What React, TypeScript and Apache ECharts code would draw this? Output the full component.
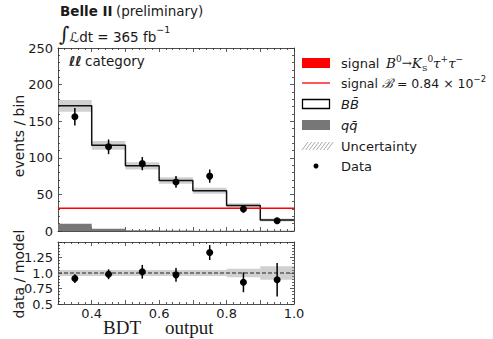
import React, { useEffect, useRef } from "react";
import * as echarts from "echarts";

const binEdges = [0.3, 0.4, 0.5, 0.6, 0.7, 0.8, 0.9, 1.0];
const modelTotal = [171, 117, 89, 69, 55, 35, 15];
const modelUnc = [8, 6, 5, 4.5, 4, 3, 2];
const qqbar = [10, 3, 1, 0.6, 0.4, 0.3, 0.2];
const dataCounts = [156, 115, 92, 67, 75, 30, 14];
const dataErr = [12, 10, 9, 8, 9, 5, 4];
const signalLevel = 31;
const ratio = [0.91, 0.98, 1.02, 0.97, 1.33, 0.85, 0.89];
const ratioErr = [0.07, 0.08, 0.11, 0.11, 0.12, 0.16, 0.27];
const ratioUnc = [0.05, 0.05, 0.05, 0.05, 0.05, 0.07, 0.11];
const ratioTickLabels: Record<string, string> = { "0.5": "0.5", "0.75": "0.75", "1": "1.0", "1.25": "1.25" };
const xTickLabels: Record<string, string> = { "0.4": "0.4", "0.6": "0.6", "0.8": "0.8", "1": "1.0" };

const FONT = "DejaVu Sans";
const TXT = "#1a1a1a";
const BAND = "rgba(150,150,150,0.45)";

const nBins = modelTotal.length;
const centers = modelTotal.map((_, i) => (binEdges[i] + binEdges[i + 1]) / 2);

const bandData = modelTotal.map((v, i) => [binEdges[i], binEdges[i + 1], v - modelUnc[i], v + modelUnc[i]]);
const qqData = qqbar.map((v, i) => [binEdges[i], binEdges[i + 1], 0, v]);
const stepData = binEdges.map((e, i) => [e, modelTotal[Math.min(i, nBins - 1)]]);
const dataPts = dataCounts.map((v, i) => [centers[i], v, v - dataErr[i], v + dataErr[i]]);
const ratioBand = ratioUnc.map((u, i) => [binEdges[i], binEdges[i + 1], 1 - u, 1 + u]);
const ratioPts = ratio.map((v, i) => [centers[i], v, v - ratioErr[i], v + ratioErr[i]]);

const rectRenderer = (fill: string) => (params: any, api: any) => {
  const a = api.coord([api.value(0), api.value(3)]);
  const b = api.coord([api.value(1), api.value(2)]);
  return {
    type: "rect",
    shape: { x: a[0], y: a[1], width: b[0] - a[0], height: b[1] - a[1] },
    style: { fill },
  };
};

const errRenderer = (params: any, api: any) => {
  const c = api.coord([api.value(0), api.value(1)]);
  const lo = api.coord([api.value(0), api.value(2)]);
  const hi = api.coord([api.value(0), api.value(3)]);
  return {
    type: "group",
    children: [
      { type: "line", shape: { x1: lo[0], y1: lo[1], x2: hi[0], y2: hi[1] }, style: { stroke: "#000", lineWidth: 1.5 } },
      { type: "circle", shape: { cx: c[0], cy: c[1], r: 3.5 }, style: { fill: "#000" } },
    ],
  };
};

const tickStyle = { lineStyle: { color: "#333", width: 0.8 } };

function mkX(grid: number, pos: "top" | "bottom", labels: boolean) {
  return {
    type: "value",
    gridIndex: grid,
    position: pos,
    min: 0.3,
    max: 1.0,
    interval: 0.1,
    splitLine: { show: false },
    axisLine: { show: true, onZero: false, lineStyle: { color: "#222", width: 0.8 } },
    axisTick: { show: true, inside: true, length: 4, ...tickStyle },
    minorTick: { show: true, splitNumber: 5, length: 2, ...tickStyle },
    axisLabel: labels
      ? {
          show: true,
          fontFamily: FONT,
          fontSize: 13,
          color: TXT,
          margin: 3,
          showMinLabel: true,
          showMaxLabel: true,
          formatter: (v: number) => xTickLabels[String(Math.round(v * 10) / 10)] || "",
        }
      : { show: false },
  };
}

function mkY(grid: number, pos: "left" | "right", min: number, max: number, interval: number, fmt: ((v: number) => string) | null) {
  return {
    type: "value",
    gridIndex: grid,
    position: pos,
    min,
    max,
    interval,
    splitLine: { show: false },
    axisLine: { show: true, onZero: false, lineStyle: { color: "#222", width: 0.8 } },
    axisTick: { show: true, inside: true, length: 4, ...tickStyle },
    minorTick: { show: true, splitNumber: 5, length: 2, ...tickStyle },
    axisLabel: fmt
      ? { show: true, fontFamily: FONT, fontSize: 13, color: TXT, margin: 5, formatter: fmt, showMaxLabel: true }
      : { show: false },
  };
}

const legendRows = [63, 83, 104, 125, 146, 166];

function buildGraphics() {
  const g: any[] = [];
  g.push({
    type: "text",
    left: 60,
    top: 4,
    style: {
      text: "{b|Belle II} {n|(preliminary)}",
      rich: {
        b: { fontFamily: FONT, fontSize: 13.5, fontWeight: "bold", fill: TXT },
        n: { fontFamily: FONT, fontSize: 13.5, fill: TXT },
      },
    },
  });
  g.push({
    type: "text",
    left: 59,
    top: 24,
    style: {
      text: "{i|∫}{l|ℒ}{n|dt = 365 fb}{s|−1}",
      rich: {
        i: { fontFamily: "DejaVu Serif", fontSize: 20, fill: TXT, lineHeight: 20, verticalAlign: "bottom" },
        l: { fontFamily: FONT, fontSize: 13.5, fontStyle: "italic", fill: TXT, lineHeight: 20, verticalAlign: "bottom" },
        n: { fontFamily: FONT, fontSize: 13.5, fill: TXT, lineHeight: 20, verticalAlign: "bottom" },
        s: { fontFamily: FONT, fontSize: 9.5, fill: TXT, lineHeight: 20, verticalAlign: "top" },
      },
    },
  });
  g.push({
    type: "text",
    left: 69,
    top: 54,
    style: {
      text: "{i|ℓℓ} {n|category}",
      rich: {
        i: { fontFamily: FONT, fontSize: 13.5, fontStyle: "italic", fontWeight: "bold", fill: TXT },
        n: { fontFamily: FONT, fontSize: 13.5, fill: TXT },
      },
    },
  });
  // axis titles
  g.push({
    type: "text",
    x: 19,
    y: 136,
    rotation: Math.PI / 2,
    style: { text: "events / bin", fontFamily: FONT, fontSize: 14, fill: TXT, align: "center", verticalAlign: "middle" },
  });
  g.push({
    type: "text",
    x: 19,
    y: 274,
    rotation: Math.PI / 2,
    style: { text: "data / model", fontFamily: FONT, fontSize: 14, fill: TXT, align: "center", verticalAlign: "middle" },
  });
  g.push({
    type: "text",
    x: 103,
    y: 327,
    style: {
      text: "{a|BDT}{s| }{a|output}",
      verticalAlign: "middle",
      rich: {
        a: { fontFamily: "Liberation Serif", fontSize: 19, fill: TXT, lineHeight: 19 },
        s: { fontFamily: "Liberation Serif", fontSize: 19, fill: TXT, width: 24, lineHeight: 19 },
      },
    },
  });
  // legend
  const lx = 302, lw = 28, tx = 341;
  const [r1, r2, r3, r4, r5, r6] = legendRows;
  g.push({ type: "rect", shape: { x: lx, y: r1 - 5, width: lw, height: 10 }, style: { fill: "#ff0000" } });
  g.push({ type: "line", shape: { x1: lx, y1: r2, x2: lx + lw, y2: r2 }, style: { stroke: "#ff0000", lineWidth: 1.3 } });
  g.push({ type: "rect", shape: { x: lx + 0.5, y: r3 - 4.5, width: lw - 1, height: 9 }, style: { fill: "#fff", stroke: "#000", lineWidth: 1.3 } });
  g.push({ type: "rect", shape: { x: lx, y: r4 - 5, width: lw, height: 10 }, style: { fill: "#777" } });
  const hatch: any[] = [];
  for (let k = 0; k < 8; k++) {
    const x0 = lx + k * 3.6;
    hatch.push({ type: "line", shape: { x1: x0, y1: r5 + 4, x2: x0 + 6, y2: r5 - 4 }, style: { stroke: "#aaa", lineWidth: 1 } });
  }
  g.push({ type: "group", children: hatch });
  g.push({ type: "circle", shape: { cx: lx + 14, cy: r6, r: 2.5 }, style: { fill: "#000" } });

  const base = { fontFamily: FONT, fontSize: 13, fill: TXT };
  g.push({
    type: "text",
    x: tx,
    y: r1,
    style: {
      text: "{n|signal}  {m|B}{p|0}{a|→}{m|K}{d|S}{p|0}{m|τ}{p|+}{m|τ}{p|−}",
      verticalAlign: "middle",
      rich: {
        n: { ...base, lineHeight: 18, verticalAlign: "middle" },
        m: { fontFamily: "DejaVu Serif", fontStyle: "italic", fontSize: 13.5, fill: TXT, lineHeight: 18, verticalAlign: "middle" },
        a: { fontFamily: "DejaVu Serif", fontSize: 12, fill: TXT, lineHeight: 18, verticalAlign: "middle" },
        p: { fontFamily: "DejaVu Serif", fontSize: 9, fill: TXT, lineHeight: 18, verticalAlign: "top" },
        d: { fontFamily: "DejaVu Serif", fontSize: 8, fill: TXT, lineHeight: 18, verticalAlign: "bottom" },
      },
    },
  });
  g.push({
    type: "text",
    x: tx,
    y: r2,
    style: {
      text: "{n|signal }{c|ℬ}{n| = 0.84 × 10}{p|−2}",
      verticalAlign: "middle",
      rich: {
        n: { ...base, fontSize: 12.5, lineHeight: 18, verticalAlign: "middle" },
        c: { fontFamily: "DejaVu Serif", fontStyle: "italic", fontSize: 13, fill: TXT, lineHeight: 18, verticalAlign: "middle" },
        p: { fontFamily: FONT, fontSize: 8.5, fill: TXT, lineHeight: 18, verticalAlign: "top" },
      },
    },
  });
  g.push({ type: "text", x: tx, y: r3, style: { text: "BB\u0304", ...base, fontStyle: "italic", verticalAlign: "middle" } });
  g.push({ type: "text", x: tx, y: r4, style: { text: "qq\u0304", ...base, fontStyle: "italic", verticalAlign: "middle" } });
  g.push({ type: "text", x: tx, y: r5, style: { text: "Uncertainty", ...base, verticalAlign: "middle" } });
  g.push({ type: "text", x: tx, y: r6, style: { text: "Data", ...base, verticalAlign: "middle" } });
  return g;
}

export default function App() {
  const ref = useRef<HTMLDivElement>(null);
  useEffect(() => {
    if (!ref.current) return;
    const chart = echarts.init(ref.current, null, { renderer: "svg" });
    chart.setOption({
      animation: false,
      backgroundColor: "#fff",
      grid: [
        { left: 58, top: 48, width: 236, height: 183 },
        { left: 58, top: 242, width: 236, height: 62 },
      ],
      xAxis: [mkX(0, "bottom", false), mkX(0, "top", false), mkX(1, "bottom", true), mkX(1, "top", false)],
      yAxis: [
        mkY(0, "left", 0, 250, 50, (v: number) => String(v)),
        mkY(0, "right", 0, 250, 50, null),
        mkY(1, "left", 0.5, 1.5, 0.25, (v: number) => ratioTickLabels[String(v)] || ""),
        mkY(1, "right", 0.5, 1.5, 0.25, null),
      ],
      series: [
        {
          type: "custom",
          xAxisIndex: 0,
          yAxisIndex: 0,
          renderItem: rectRenderer(BAND),
          encode: { x: [0, 1], y: [2, 3] },
          data: bandData,
          z: 1,
          silent: true,
        },
        {
          type: "custom",
          xAxisIndex: 0,
          yAxisIndex: 0,
          renderItem: rectRenderer("#777777"),
          encode: { x: [0, 1], y: [2, 3] },
          data: qqData,
          z: 2,
          silent: true,
        },
        {
          type: "line",
          xAxisIndex: 0,
          yAxisIndex: 0,
          step: "end",
          showSymbol: false,
          data: stepData,
          lineStyle: { color: "#111", width: 1.5 },
          z: 3,
        },
        {
          type: "line",
          xAxisIndex: 0,
          yAxisIndex: 0,
          showSymbol: false,
          data: [
            [binEdges[0], signalLevel],
            [binEdges[nBins], signalLevel],
          ],
          lineStyle: { color: "#ff0000", width: 1.5 },
          z: 4,
        },
        {
          type: "custom",
          xAxisIndex: 0,
          yAxisIndex: 0,
          renderItem: errRenderer,
          encode: { x: 0, y: [1, 2, 3] },
          data: dataPts,
          z: 5,
        },
        {
          type: "custom",
          xAxisIndex: 2,
          yAxisIndex: 2,
          renderItem: rectRenderer(BAND),
          encode: { x: [0, 1], y: [2, 3] },
          data: ratioBand,
          z: 1,
        },
        {
          type: "line",
          xAxisIndex: 2,
          yAxisIndex: 2,
          showSymbol: false,
          data: [
            [binEdges[0], 1],
            [binEdges[nBins], 1],
          ],
          lineStyle: { color: "#222", width: 1, type: [4, 2] },
          z: 3,
        },
        {
          type: "custom",
          xAxisIndex: 2,
          yAxisIndex: 2,
          renderItem: errRenderer,
          encode: { x: 0, y: [1, 2, 3] },
          data: ratioPts,
          z: 5,
        },
      ],
      graphic: buildGraphics(),
    });
    return () => chart.dispose();
  }, []);
  return <div ref={ref} style={{ position: "fixed", left: 0, top: 0, width: 493, height: 339 }} />;
}
